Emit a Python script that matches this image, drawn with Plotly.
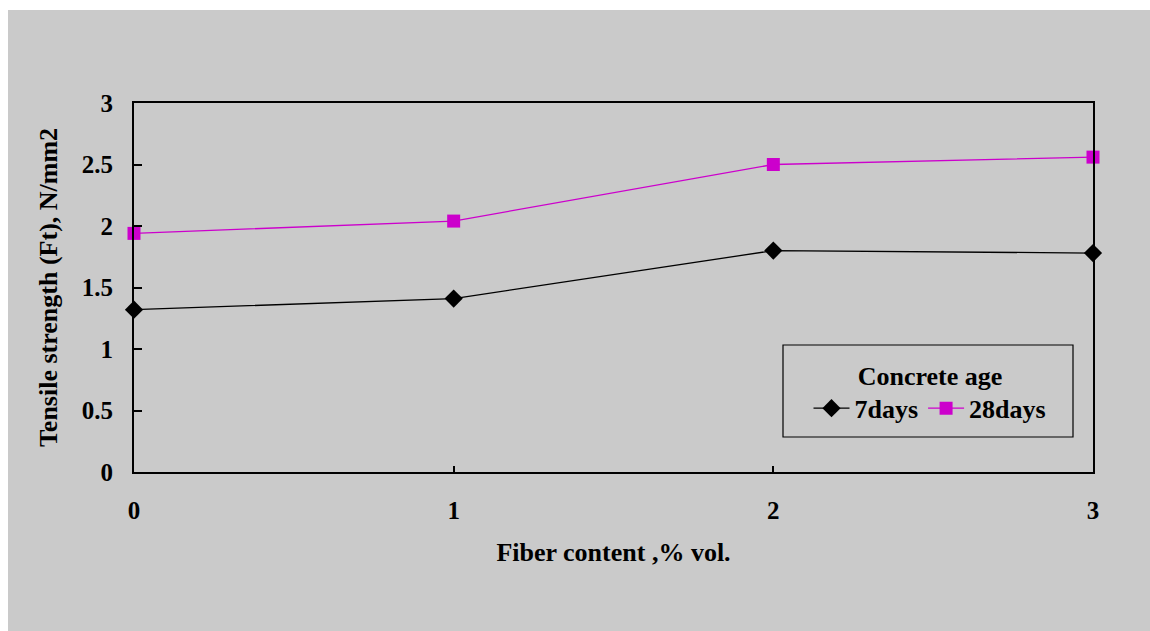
import plotly.graph_objects as go

# Fiber content (% by volume) and splitting tensile strength (N/mm2)
fiber_content = [0, 1, 2, 3]
strength_7days = [1.32, 1.41, 1.80, 1.78]
strength_28days = [1.94, 2.04, 2.50, 2.56]
y_ticks = [0, 0.5, 1, 1.5, 2, 2.5, 3]
y_tick_text = ["0", "0.5", "1", "1.5", "2", "2.5", "3"]
x_ticks = [0, 1, 2, 3]

W, H = 1150, 631
L, R, T, B = 134, 57, 103, 159
PW, PH = W - L - R, H - T - B
GRAY = "#cacaca"
FONT = "Times New Roman, Liberation Serif, serif"


def px_x(p):
    return (p - L) / PW


def px_y(p):
    return 1 - (p - T) / PH


fig = go.Figure()
fig.add_trace(go.Scatter(
    x=fiber_content, y=strength_7days, name="7days", mode="lines+markers",
    line=dict(color="#000000", width=1.3),
    marker=dict(symbol="diamond", size=14, color="#000000"),
    cliponaxis=False,
))
fig.add_trace(go.Scatter(
    x=fiber_content, y=strength_28days, name="28days", mode="lines+markers",
    line=dict(color="#cc00cc", width=1.3),
    marker=dict(symbol="square", size=13, color="#cc00cc"),
    cliponaxis=False,
))

shapes = [
    # white margin strips around the gray panel
    dict(type="rect", xref="paper", yref="paper", layer="below",
         x0=px_x(0), x1=px_x(W), y0=px_y(0), y1=px_y(10),
         fillcolor="white", line=dict(width=0)),
    dict(type="rect", xref="paper", yref="paper", layer="below",
         x0=px_x(0), x1=px_x(8), y0=px_y(0), y1=px_y(H),
         fillcolor="white", line=dict(width=0)),
    # legend frame
    dict(type="rect", xref="paper", yref="paper",
         x0=px_x(783), x1=px_x(1073), y0=px_y(345), y1=px_y(437),
         fillcolor=GRAY, line=dict(color="#000000", width=1.2), layer="above"),
]

bold = dict(family=FONT, color="#000000", weight="bold")

axis_common = dict(
    showline=True, linecolor="#000000", linewidth=2, mirror=True,
    showgrid=False, zeroline=False, ticks="inside", tickcolor="#000000",
    tickfont=dict(size=25, **bold),
)

fig.update_layout(
    width=W, height=H,
    margin=dict(l=L, r=R, t=T, b=B, pad=0),
    paper_bgcolor=GRAY, plot_bgcolor=GRAY,
    font=dict(family=FONT, color="#000000"),
    shapes=shapes,
    showlegend=True,
    legend=dict(
        orientation="h", x=px_x(930), xanchor="center",
        y=px_y(351), yanchor="top",
        bgcolor="rgba(0,0,0,0)", borderwidth=0,
        font=dict(size=26, **bold),
        title=dict(text="Concrete age", side="top center",
                   font=dict(size=26, **bold)),
        itemwidth=36, tracegroupgap=0,
    ),
    xaxis=dict(
        range=[0, 3], tickvals=x_ticks, ticklen=6, tickwidth=1.5,
        ticklabelstandoff=15,
        title=dict(text="Fiber content ,% vol.", standoff=20,
                   font=dict(size=26, **bold)),
        **axis_common,
    ),
    yaxis=dict(
        range=[0, 3], tickvals=y_ticks, ticktext=y_tick_text, ticklen=8, tickwidth=1.5,
        ticklabelstandoff=14,
        title=dict(text="Tensile strength (Ft), N/mm2", standoff=17,
                   font=dict(size=26, **bold)),
        **axis_common,
    ),
)

fig.write_html("out.html")
